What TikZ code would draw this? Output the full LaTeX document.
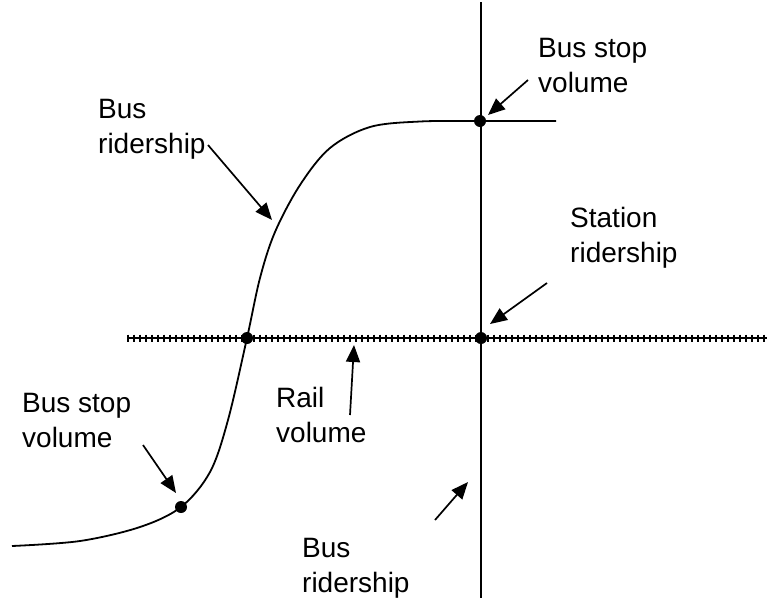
\documentclass[tikz,border=0pt]{standalone}
\usepackage{fontspec}
\setmainfont{Liberation Sans}
\usetikzlibrary{arrows.meta,decorations.pathreplacing}
\tikzset{
  lbl/.style={anchor=north west,inner sep=0pt,align=left,font=\fontsize{28}{35}\selectfont},
  dot/.style={circle,fill=black,inner sep=0pt,minimum size=12pt},
  ptr/.style={line width=1.7pt,-{Triangle[length=17pt,width=14pt]}},
  axis/.style={line width=2pt},
  curve/.style={line width=1.8pt},
  railticks/.style={line width=1.6pt,decorate,decoration={ticks,segment length=6pt,amplitude=3.5pt}}
}
\begin{document}
\begin{tikzpicture}[x=1pt,y=-1pt]
\useasboundingbox (0,0) rectangle (767,598);
% axes
\coordinate (vt) at (481,2);
\coordinate (vb) at (481,598);
\coordinate (hl) at (128,338);
\coordinate (hr) at (767,338);
\draw[axis] (vt) -- (vb);
\draw[axis] (hl) -- (hr);
\draw[railticks] (hl) -- (hr);
% curve
\draw[curve] plot[smooth,tension=0.55] coordinates {(12,546) (80,541) (140,527) (181,507) (210,472) (228,420) (247,338) (260,278) (275,232) (300,185) (330,148) (370,127) (420,121.5) (480,121) (556,121)};
% dots
\node[dot] (dtop) at (480,121) {};
\node[dot] (dcross) at (481,338) {};
\node[dot] (drail) at (247,338) {};
\node[dot] (dlow) at (181,507) {};
% labels
\node[lbl] (l1) at (538,38) {Bus stop\\volume};
\node[lbl] (l2) at (98,99) {Bus\\ridership};
\node[lbl] (l3) at (570,207) {Station\\ridership};
\node[lbl] (l4) at (276,387) {Rail\\volume};
\node[lbl] (l5) at (22,393) {Bus stop\\volume};
\node[lbl] (l6) at (302,538) {Bus\\ridership};
% arrow ends
\coordinate (t1) at (208,145); \coordinate (h1) at (272,220);
\coordinate (t2) at (528,80);  \coordinate (h2) at (488,115);
\coordinate (t3) at (547,283); \coordinate (h3) at (490,324);
\coordinate (t4) at (350,415); \coordinate (h4) at (354,345);
\coordinate (t5) at (143,445); \coordinate (h5) at (176,493);
\coordinate (t6) at (435,520); \coordinate (h6) at (468,482);
\draw[ptr] (t1) -- (h1);
\draw[ptr] (t2) -- (h2);
\draw[ptr] (t3) -- (h3);
\draw[ptr] (t4) -- (h4);
\draw[ptr] (t5) -- (h5);
\draw[ptr] (t6) -- (h6);
\end{tikzpicture}
\end{document}
